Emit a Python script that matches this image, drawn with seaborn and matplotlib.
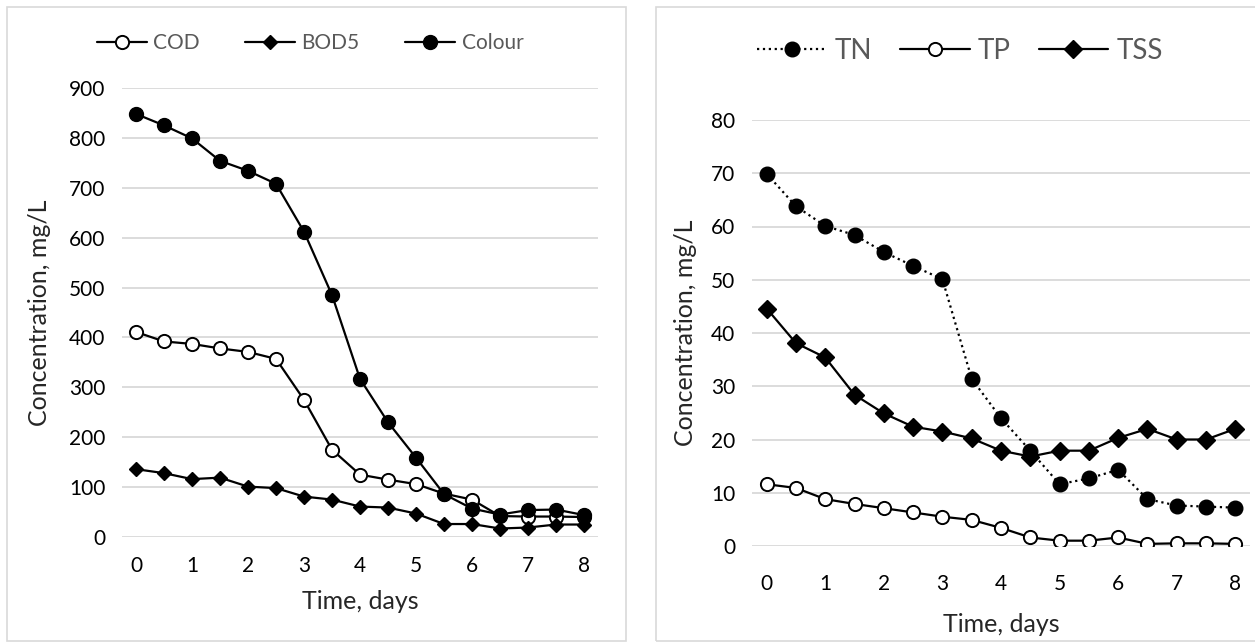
import matplotlib
matplotlib.use("Agg")
import matplotlib.pyplot as plt
from matplotlib.patches import Rectangle
import seaborn as sns

# ========== data ==========
days = [0, 0.5, 1, 1.5, 2, 2.5, 3, 3.5, 4, 4.5, 5, 5.5, 6, 6.5, 7, 7.5, 8]

cod = [411, 392, 387, 378, 371, 357, 275, 175, 125, 115, 106, 87, 75, 42, 41, 41, 40]
bod5 = [136, 128, 116, 119, 101, 98, 81, 75, 61, 59, 47, 26, 26, 17, 19, 25, 25]
colour = [848, 825, 799, 754, 734, 708, 612, 485, 317, 230, 159, 86, 57, 45, 54, 55, 44]

tn = [69.9, 63.8, 60.1, 58.4, 55.2, 52.6, 50.1, 31.4, 24.0, 17.9, 11.6, 12.7, 14.3, 8.8, 7.6, 7.4, 7.2]
tp = [11.6, 10.9, 8.8, 7.9, 7.1, 6.3, 5.5, 4.9, 3.4, 1.6, 1.0, 1.0, 1.6, 0.4, 0.5, 0.5, 0.4]
tss = [44.6, 38.1, 35.4, 28.4, 24.9, 22.4, 21.5, 20.2, 17.9, 16.8, 17.9, 17.9, 20.3, 22.0, 20.0, 20.0, 22.0]

x_ticks = [0, 1, 2, 3, 4, 5, 6, 7, 8]
left_yticks = [0, 100, 200, 300, 400, 500, 600, 700, 800, 900]
right_yticks = [0, 10, 20, 30, 40, 50, 60, 70, 80]

# ========== style ==========
sns.set_style("white")
plt.rcParams['font.family'] = ['Lato', 'DejaVu Sans']

W, H = 1255, 642
fig = plt.figure(figsize=(W / 100, H / 100), dpi=100)

# chart frames (Excel style boxes)
fig.add_artist(Rectangle((7 / W, 1 / H), 619 / W, 634 / H, transform=fig.transFigure,
                         fill=False, edgecolor='#d9d9d9', lw=1.2))
fig.add_artist(Rectangle((656 / W, 1 / H), 620 / W, 634 / H, transform=fig.transFigure,
                         fill=False, edgecolor='#d9d9d9', lw=1.2))

ax1 = fig.add_axes([122 / W, 1 - 537 / H, 476 / W, 449 / H])
ax2 = fig.add_axes([752 / W, 1 - 546 / H, 498 / W, 426 / H])

lw = 1.6

# ---- left panel ----
sns.lineplot(x=days, y=cod, ax=ax1, color='black', lw=lw, marker='o', markersize=9.5,
             markerfacecolor='white', markeredgecolor='black', markeredgewidth=1.4, label='COD')
sns.lineplot(x=days, y=bod5, ax=ax1, color='black', lw=lw, marker='D', markersize=7,
             markerfacecolor='black', markeredgecolor='black', markeredgewidth=1, label='BOD5')
sns.lineplot(x=days, y=colour, ax=ax1, color='black', lw=lw, marker='o', markersize=10,
             markerfacecolor='black', markeredgecolor='black', markeredgewidth=1, label='Colour')
ax1.set_ylim(0, 900)
ax1.set_yticks(left_yticks)

# ---- right panel ----
sns.lineplot(x=days, y=tn, ax=ax2, color='black', lw=lw, linestyle=':', marker='o', markersize=10.5,
             markerfacecolor='black', markeredgecolor='black', markeredgewidth=1, label='TN')
sns.lineplot(x=days, y=tp, ax=ax2, color='black', lw=lw, marker='o', markersize=9.5,
             markerfacecolor='white', markeredgecolor='black', markeredgewidth=1.4, label='TP')
sns.lineplot(x=days, y=tss, ax=ax2, color='black', lw=lw, marker='D', markersize=9,
             markerfacecolor='black', markeredgecolor='black', markeredgewidth=1, label='TSS')
ax2.set_ylim(0, 80)
ax2.set_yticks(right_yticks)

for ax, xpad, xlab_pad in [(ax1, 14, 10), (ax2, 20, 14)]:
    ax.set_xlim(-0.25, 8.25)
    ax.set_xticks(x_ticks)
    ax.grid(axis='y', color='#d9d9d9', lw=1.3)
    ax.set_axisbelow(True)
    for s in ax.spines.values():
        s.set_visible(False)
    ax.tick_params(axis='both', length=0, labelsize=15, colors='black')
    ax.tick_params(axis='x', pad=xpad)
    ax.tick_params(axis='y', pad=12)
    ax.set_xlabel('Time, days', fontsize=18, labelpad=xlab_pad)
    ax.set_ylabel('Concentration, mg/L', fontsize=18, labelpad=13 if ax is ax1 else 10)

ax1.legend(loc='center', ncol=3, frameon=False, fontsize=15, handlelength=2.4, columnspacing=2.2,
           handletextpad=0.3, labelcolor='#595959')
ax1.legend_.set_bbox_to_anchor((310 / W, (H - 43) / H), transform=fig.transFigure)

ax2.legend(loc='center', ncol=3, frameon=False, fontsize=20, handlelength=2.5, columnspacing=1.0,
           handletextpad=0.3, labelcolor='#595959')
ax2.legend_.set_bbox_to_anchor((960 / W, (H - 51) / H), transform=fig.transFigure)

fig.savefig('out.png', dpi=100)
